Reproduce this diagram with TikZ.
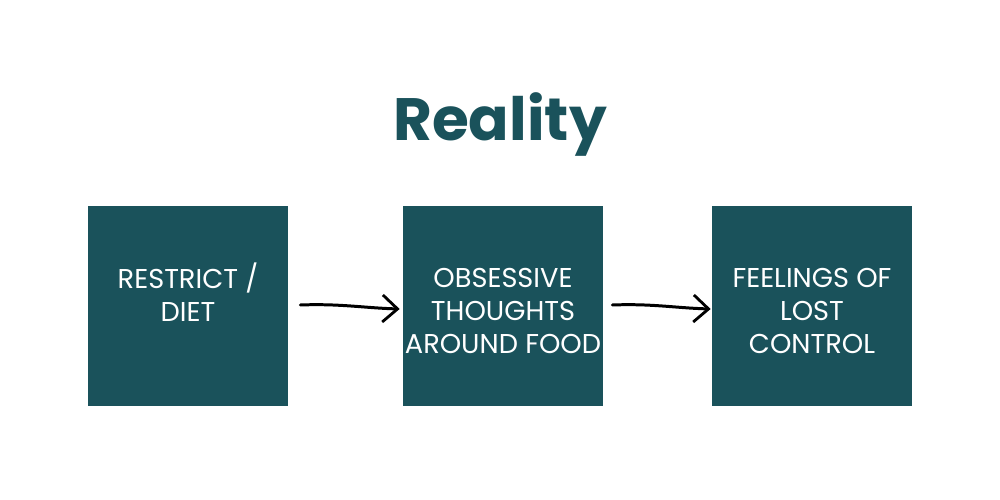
\documentclass[tikz,border=0pt]{standalone}
\usepackage{fontspec}
\setmainfont{Poppins}
\usetikzlibrary{arrows.meta}
\definecolor{tealdark}{HTML}{1A525B}
% box text: three rows, set a little below the middle
\newcommand{\boxtext}[3]{\raisebox{-0.28cm}[0pt][0pt]{\begin{tabular}{@{}c@{}}#1\\#2\\\mbox{}#3\end{tabular}}}
\tikzset{
  stepbox/.style={fill=tealdark, minimum width=4cm, minimum height=4cm, inner sep=0pt,
    text=white, font=\fontsize{15.5}{18.7}\selectfont},
  handarrow/.style={line width=1.7pt, line cap=round, -{Straight Barb[length=3mm, width=5.4mm, line width=1.6pt]}}
}
\begin{document}
\begin{tikzpicture}
\useasboundingbox (0,0) rectangle (20,10);
\node[text=tealdark, font=\fontsize{34}{40}\bfseries\selectfont] (title) at (10,7.5) {Reality};
\node[stepbox] (restrict) at (3.76,3.88) {\boxtext{RESTRICT /}{DIET}{}};
\node[stepbox] (thoughts) at (10.06,3.88) {\boxtext{OBSESSIVE}{THOUGHTS}{AROUND FOOD}};
\node[stepbox] (control) at (16.24,3.88) {\boxtext{FEELINGS OF}{LOST}{CONTROL}};
\draw[handarrow] ([xshift=0.24cm,yshift=0.02cm]restrict.east) .. controls +(0.8,0.03) and +(-0.7,0.02) .. ([xshift=-0.06cm,yshift=-0.06cm]thoughts.west);
\draw[handarrow] ([xshift=0.18cm,yshift=0.02cm]thoughts.east) .. controls +(0.8,0.03) and +(-0.7,0.02) .. ([xshift=-0.02cm,yshift=-0.06cm]control.west);
\end{tikzpicture}
\end{document}
